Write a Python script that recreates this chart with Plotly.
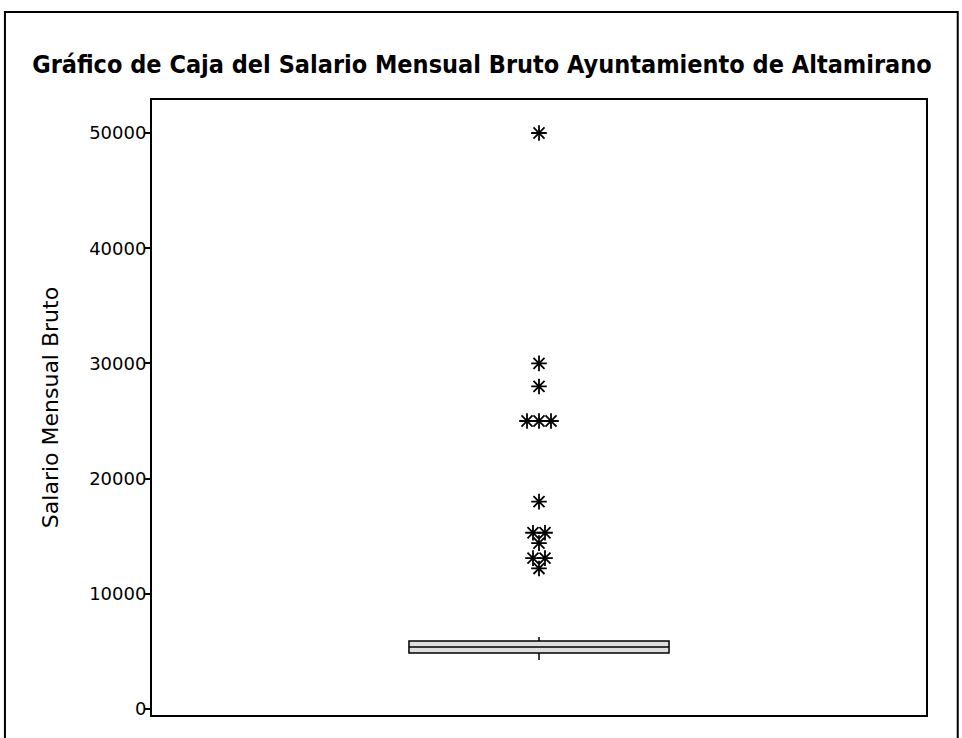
import plotly.graph_objects as go
from collections import Counter

# ---- data ----
title_text = "Gráfico de Caja del Salario Mensual Bruto Ayuntamiento de Altamirano"
y_title = "Salario Mensual Bruto"
q1 = [4860]
median = [5380]
q3 = [5900]
lower_whisker = [4250]
upper_whisker = [6250]
outliers = [50000, 30000, 28000, 25000, 25000, 25000, 18000,
            15300, 15300, 14400, 13100, 13100, 12200]
y_ticks = [0, 10000, 20000, 30000, 40000, 50000]

# horizontal spread for coincident symbols (as the original software does)
step = 0.031
counts = Counter(outliers)
seen = Counter()
x_out = []
for v in outliers:
    n = counts[v]
    i = seen[v]
    seen[v] += 1
    x_out.append((i - (n - 1) / 2) * step)

fig = go.Figure()
fig.add_trace(go.Box(
    x=[0], q1=q1, median=median, q3=q3,
    lowerfence=lower_whisker, upperfence=upper_whisker,
    width=0.672, whiskerwidth=0,
    fillcolor="#dedede", line=dict(color="black", width=1.5),
    boxpoints=False, hoverinfo="y", showlegend=False,
))
fig.add_trace(go.Scatter(
    x=x_out, y=outliers, mode="markers",
    marker=dict(symbol="asterisk-open", size=13,
                line=dict(color="black", width=1.8), color="black"),
    showlegend=False,
))

fig.update_layout(
    width=962, height=738,
    margin=dict(l=152, r=36, t=100, b=23),
    paper_bgcolor="white", plot_bgcolor="white",
    title=dict(text=title_text, x=0.501, xanchor="center",
               y=1 - 64 / 738, yanchor="middle", yref="container",
               font=dict(family="DejaVu Sans Condensed, DejaVu Sans", size=25,
                         color="black", weight="bold")),
    font=dict(family="DejaVu Sans", color="black"),
    xaxis=dict(range=[-1, 1], showticklabels=False, ticks="", showgrid=False,
               zeroline=False, showline=True, linecolor="black", linewidth=2,
               mirror=True),
    yaxis=dict(range=[-520, 52865], tickvals=y_ticks,
               ticktext=[str(v) for v in y_ticks],
               ticks="outside", ticklen=6, tickwidth=1.5, tickcolor="black",
               ticklabelstandoff=-6,
               tickfont=dict(size=18, family="DejaVu Sans"),
               showgrid=False, zeroline=False, showline=True,
               linecolor="black", linewidth=2, mirror=True,
               title=dict(text=y_title, standoff=24,
                          font=dict(size=22, family="DejaVu Sans"))),
    shapes=[dict(type="rect", xref="paper", yref="paper",
                 x0=-0.19, x1=1.041, y0=-0.06, y1=1.143,
                 line=dict(color="black", width=2), fillcolor="rgba(0,0,0,0)")],
)

fig.write_html("out.html", config={"displayModeBar": False},
               post_script="document.body.style.margin='0';document.body.style.overflow='hidden';")
